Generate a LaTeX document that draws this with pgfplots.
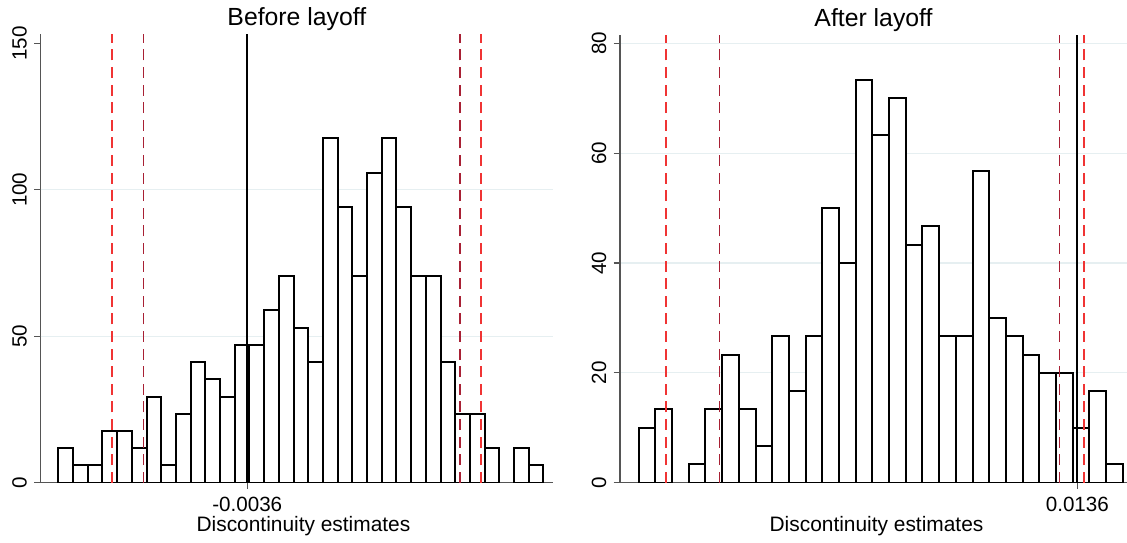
\documentclass[border=0pt]{standalone}
\usepackage{fontspec}
\setmainfont{Liberation Sans}
\usepackage{pgfplots}
\pgfplotsset{compat=1.18}
\definecolor{brightred}{RGB}{240,52,52}
\definecolor{darkred}{RGB}{168,32,52}
\definecolor{gridc}{RGB}{230,239,241}
\definecolor{axc}{RGB}{85,85,85}
\pgfplotsset{
  statastyle/.style={
    scale only axis,
    height=224.1pt,
    axis x line*=bottom, axis y line*=left,
    axis line style={axc, line width=0.55pt, -},
    tick style={axc, line width=0.55pt},
    tick align=outside,
    major tick length=3.2pt,
    scaled x ticks=false, scaled y ticks=false,
    ticklabel style={font=\fontsize{10.3}{12}\selectfont},
    /pgf/number format/assume math mode=true,
    yticklabel style={xshift=-3.8pt, rotate=90, anchor=base},
    xticklabel style={anchor=base, yshift=-11pt},
    title style={font=\fontsize{12.4}{14}\selectfont, anchor=base, at={(0.5,1)}, yshift=-1.75pt},
    xlabel=Discontinuity estimates,
    xlabel style={font=\fontsize{10.45}{12}\selectfont, anchor=base, at={(axis description cs:0.5,0)}, yshift=-24.4pt},
    grid style={gridc, line width=0.6pt},
    bars/.style={ybar interval, fill=white, draw=black, line width=1pt},
    redl/.style={brightred, line width=0.8pt, dash pattern=on 5.5pt off 3.3pt},
    darkl/.style={darkred, line width=0.8pt, dash pattern=on 5.5pt off 3.3pt},
    blackl/.style={black, line width=0.9pt},
  }
}
\begin{document}
\begin{tikzpicture}
\useasboundingbox (0,0) rectangle (563.5pt,271pt);
% ---------------- Before layoff ----------------
\begin{axis}[statastyle,
  at={(20.35pt,29.65pt)}, anchor=south west,
  width=256.15pt,
  title={Before layoff},
  xmin=-0.013548, xmax=0.011125,
  ymin=0, ymax=153,
  ytick={0,50,100,150},
  extra y ticks={50,100},
  extra y tick labels={},
  extra y tick style={ymajorgrids=true, major tick length=0pt},
  xtick={-0.0036}, xticklabels={-0.0036},
  xlabel style={xshift=3.3pt},
]
\addplot[bars] coordinates {
(-0.01270,11.76) (-0.01199,5.88) (-0.01128,5.88) (-0.01058,17.65)
(-0.00987,17.65) (-0.00916,11.76) (-0.00845,29.41) (-0.00774,5.88)
(-0.00704,23.53) (-0.00633,41.18) (-0.00562,35.29) (-0.00491,29.41)
(-0.00420,47.06) (-0.00350,47.06) (-0.00279,58.82) (-0.00208,70.59)
(-0.00137,52.94) (-0.00066,41.18) (0.00004,117.65) (0.00075,94.12)
(0.00146,70.59) (0.00217,105.88) (0.00288,117.65) (0.00358,94.12)
(0.00429,70.59) (0.00500,70.59) (0.00571,41.18) (0.00642,23.53)
(0.00712,23.53) (0.00783,11.76) (0.00854,11.76)
};
\addplot[bars] coordinates {
(0.00925,11.76) (0.00996,5.88) (0.01066,5.88)
};
\addplot[redl] coordinates {(-0.010128,0) (-0.010128,153)};
\addplot[darkl] coordinates {(-0.008606,0) (-0.008606,153)};
\addplot[blackl] coordinates {(-0.0036,0) (-0.0036,153)};
\addplot[darkl] coordinates {(0.006647,0) (0.006647,153)};
\addplot[redl] coordinates {(0.007644,0) (0.007644,153)};
\end{axis}
% ---------------- After layoff ----------------
\begin{axis}[statastyle,
  at={(310pt,29.65pt)}, anchor=south west,
  width=253.5pt,
  title={After layoff},
  xmin=-0.02065, xmax=0.01732,
  ymin=0, ymax=81.6,
  ytick={0,20,40,60,80},
  ymajorgrids=true,
  xtick={0.0136}, xticklabels={0.0136},
  xlabel style={xshift=1.5pt},
]
\addplot[bars] coordinates {
(-0.01925,10.00) (-0.01800,13.33) (-0.01675,13.33)
};
\addplot[bars] coordinates {
(-0.01550,3.33) (-0.01425,13.33) (-0.01300,23.33) (-0.01175,13.33)
(-0.01050,6.67) (-0.00925,26.67) (-0.00800,16.67) (-0.00675,26.67)
(-0.00550,50.00) (-0.00425,40.00) (-0.00300,73.33) (-0.00175,63.33)
(-0.00050,70.00) (0.00075,43.33) (0.00200,46.67) (0.00325,26.67)
(0.00450,26.67) (0.00575,56.67) (0.00700,30.00) (0.00825,26.67)
(0.00950,23.33) (0.01075,20.00) (0.01200,20.00) (0.01325,10.00)
(0.01450,16.67) (0.01575,3.33) (0.01700,3.33)
};
\addplot[redl] coordinates {(-0.017205,0) (-0.017205,81.6)};
\addplot[darkl] coordinates {(-0.013213,0) (-0.013213,81.6)};
\addplot[darkl] coordinates {(0.01225,0) (0.01225,81.6)};
\addplot[blackl] coordinates {(0.0136,0) (0.0136,81.6)};
\addplot[redl] coordinates {(0.0141,0) (0.0141,81.6)};
\end{axis}
\end{tikzpicture}
\end{document}
